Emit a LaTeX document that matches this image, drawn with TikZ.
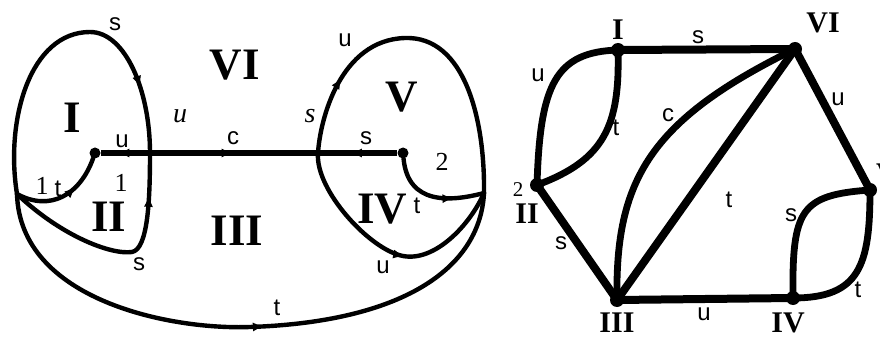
\documentclass[tikz,border=0pt]{standalone}
\usepackage{fontspec}
\setmainfont{Liberation Serif}
\setsansfont{Liberation Sans}
\usetikzlibrary{decorations.markings,arrows.meta}
\begin{document}
\begin{tikzpicture}[x=1pt,y=-1pt,
  curve/.style={line width=4.4pt, line cap=round, line join=round},
  bar/.style={line width=5.6pt},
  redge/.style={line width=8pt, line cap=round},
  rcurve/.style={line width=6.8pt, line cap=round},
  midarrow/.style={postaction={decorate},decoration={markings,mark=at position #1 with {\arrow{Triangle[length=9pt,width=8pt]}}}},
  lbl/.style={font=\fontsize{24}{24}\selectfont\sffamily, inner sep=0pt},
  ilbl/.style={font=\fontsize{28}{28}\selectfont\itshape, inner sep=0pt},
  num/.style={font=\fontsize{26}{26}\selectfont, inner sep=0pt},
  big/.style={font=\fontsize{45}{45}\selectfont\bfseries, inner sep=0pt},
  med/.style={font=\fontsize{30}{30}\selectfont\bfseries, inner sep=0pt},
  dot/.style={circle, fill, inner sep=0pt, minimum size=11pt},
  bigdot/.style={circle, fill, inner sep=0pt, minimum size=14pt}
]
\useasboundingbox (0,0) rectangle (880,339);

% ---------- left diagram ----------
\coordinate (L) at (17,194);
\coordinate (R) at (484,193);
\coordinate (X1) at (150,153);
\coordinate (X2) at (318,153);
\node[dot] (D1) at (95,153) {};
\node[dot] (D2) at (403,153) {};

% loop I (top s)
\draw[curve, midarrow=0.8] (L) .. controls (5,120) and (30,32) .. (90,32)
   .. controls (125,32) and (150,90) .. (X1);
% bottom s
\draw[curve, midarrow=0.81] (L) .. controls (60,235) and (110,255) .. (132,252)
   .. controls (148,249) and (150,200) .. (X1);
% inner t
\draw[curve, midarrow=0.63] (L) .. controls (50,212) and (80,195) .. (D1);
% outer t
\draw[curve, midarrow=0.52] (L) .. controls (20,300) and (170,330) .. (250,327)
   .. controls (400,322) and (480,270) .. (R);
% loop V top u
\draw[curve, midarrow=0.22] (X2) .. controls (320,120) and (340,40) .. (405,38)
   .. controls (465,36) and (485,120) .. (R);
% bottom u
\draw[curve, midarrow=0.56] (X2) .. controls (315,190) and (370,250) .. (403,256)
   .. controls (435,262) and (470,225) .. (R);
% inner t (right)
\draw[curve, midarrow=0.68] (D2) .. controls (408,205) and (450,202) .. (R);

% horizontal bar
\draw[bar, midarrow=0.6] (X1) -- (D1);
\draw[bar, midarrow=0.48] (X1) -- (X2);
\draw[bar, midarrow=0.56] (D2) -- (X2);

% labels left
\node[lbl] (ls1) at (115,24) {s};
\node[big] (lI) at (72,118) {I};
\node[big] (lVI) at (235,65) {VI};
\node[ilbl] (lu1) at (180,116) {u};
\node[lbl] (lu2) at (122,141) {u};
\node[lbl] (lc) at (233,138) {c};
\node[num] (l1a) at (42,186) {1};
\node[lbl] (lt1) at (58,189) {t};
\node[num] (l1b) at (121,183) {1};
\node[big] (lII) at (109,217) {II};
\node[big] (lIII) at (237,231) {III};
\node[lbl] (ls2) at (139,264) {s};
\node[lbl] (lt2) at (277,308) {t};
\node[lbl] (lu3) at (345,40) {u};
\node[big] (lV) at (402,97) {V};
\node[ilbl] (ls3) at (310,116) {s};
\node[lbl] (ls4) at (366,138) {s};
\node[num] (l2) at (442,162) {2};
\node[big] (lIV) at (382,209) {IV};
\node[lbl] (lt3) at (417,206) {t};
\node[lbl] (lu4) at (383,267) {u};

% ---------- right diagram ----------
\node[bigdot] (rI) at (618,50) {};
\node[bigdot] (rVI) at (795,49) {};
\node[bigdot] (rII) at (537,185) {};
\node[bigdot] (rIII) at (617,300) {};
\node[bigdot] (rIV) at (793,298) {};
\node[bigdot] (rV) at (870,190) {};

\draw[redge] (rI.center) -- (rVI.center);
\draw[rcurve] (rI.center) .. controls (555,52) and (540,85) .. (rII.center);
\draw[rcurve] (rI.center) .. controls (620,125) and (605,160) .. (rII.center);
\draw[redge] (rII.center) -- (rIII.center);
\draw[rcurve] (rIII.center) .. controls (615,180) and (650,120) .. (rVI.center);
\draw[redge] (rIII.center) -- (rVI.center);
\draw[redge] (rVI.center) -- (rV.center);
\draw[redge] (rIII.center) -- (rIV.center);
\draw[rcurve] (rIV.center) .. controls (792,210) and (800,195) .. (rV.center);
\draw[rcurve] (rIV.center) .. controls (860,298) and (870,265) .. (rV.center);

\node[med] (tI) at (618,30) {I};
\node[med] (tVI) at (823,23) {VI};
\node[med] (tV) at (887,174) {V};
\node[num, font=\fontsize{21}{21}\selectfont] (t2) at (518,190) {2};
\node[med] (tII) at (527,214) {II};
\node[med] (tIII) at (617,323) {III};
\node[med] (tIV) at (788,323) {IV};
\node[lbl] (rs1) at (698,37) {s};
\node[lbl] (ru1) at (538,75) {u};
\node[lbl] (rt1) at (616,128) {t};
\node[lbl] (rc) at (668,115) {c};
\node[lbl] (rt2) at (729,200) {t};
\node[lbl] (ru2) at (838,99) {u};
\node[lbl] (rs2) at (561,243) {s};
\node[lbl] (ru3) at (704,314) {u};
\node[lbl] (rs3) at (791,215) {s};
\node[lbl] (rt3) at (858,290) {t};
\end{tikzpicture}
\end{document}
